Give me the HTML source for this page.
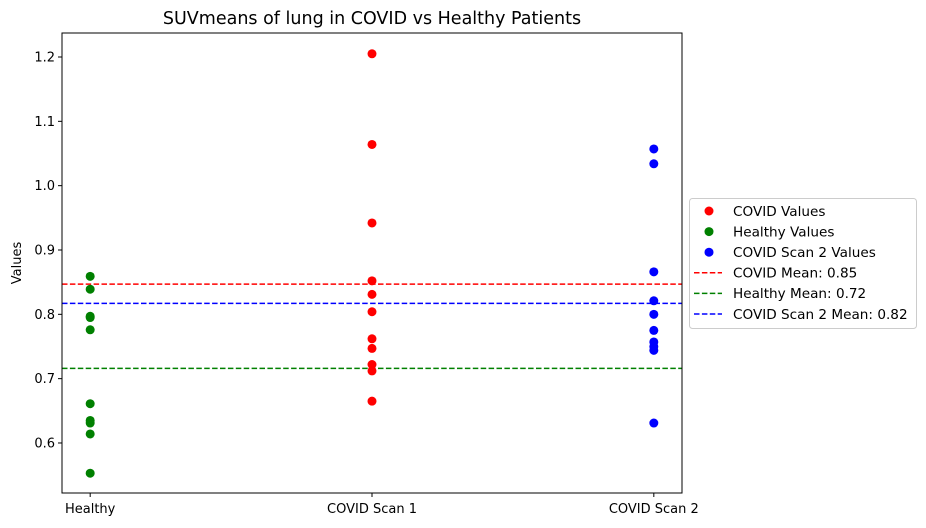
<!DOCTYPE html>
<html><head><meta charset="utf-8"><style>
body{margin:0;background:#fff}
svg{display:block;font-family:"DejaVu Sans","Liberation Sans",sans-serif}
</style></head><body>
<svg id="chart" width="926" height="528" viewBox="0 0 926 528" xmlns="http://www.w3.org/2000/svg">
<rect width="926" height="528" fill="#fff"/>
<text x="372" y="24" font-size="17.5" text-anchor="middle">SUVmeans of lung in COVID vs Healthy Patients</text>
<text transform="translate(21,263) rotate(-90)" font-size="13" text-anchor="middle">Values</text>
<g id="marks"></g>
<rect x="62" y="33" width="620" height="460" fill="none" stroke="#000" stroke-width="1"/>
<g id="legend">
<rect x="689.5" y="198.5" width="227" height="130" rx="3" fill="#fff" stroke="#ccc"/>
</g>
</svg>
<script>
const categories = ["Healthy", "COVID Scan 1", "COVID Scan 2"];
const healthyValues = [0.859, 0.839, 0.797, 0.795, 0.776, 0.661, 0.635, 0.631, 0.614, 0.553];
const covidValues = [1.205, 1.064, 0.942, 0.852, 0.831, 0.804, 0.762, 0.747, 0.722, 0.712, 0.665];
const covid2Values = [1.057, 1.034, 0.866, 0.821, 0.800, 0.775, 0.757, 0.750, 0.744, 0.631];
const meanValues = [0.847, 0.716, 0.817];
const meanLabels = ["COVID Mean: 0.85", "Healthy Mean: 0.72", "COVID Scan 2 Mean: 0.82"];
const yTicks = [0.6, 0.7, 0.8, 0.9, 1.0, 1.1, 1.2];

const NS = "http://www.w3.org/2000/svg";
const X0 = 62, X1 = 682, Y0 = 33, Y1 = 493;
function xScale(i){ return X0 + (i + 0.1) / 2.2 * (X1 - X0); }
function yScale(v){ return 57 + (1.2 - v) * 643.3; }
function mk(tag, attrs, parent){
  const e = document.createElementNS(NS, tag);
  for (const k in attrs) e.setAttribute(k, attrs[k]);
  parent.appendChild(e); return e;
}
const svg = document.getElementById("chart");
const marks = document.getElementById("marks");

yTicks.forEach(t => {
  const y = yScale(t);
  const l = mk("line", {x1: X0 - 4, x2: X0, y1: y, y2: y, stroke: "#000"}, svg);
  
  
  const tx = mk("text", {x: X0 - 7, y: y + 4.5, "font-size": 13, "text-anchor": "end"}, svg);
  tx.textContent = t.toFixed(1);
  
  
});
categories.forEach((c, i) => {
  const x = xScale(i);
  const l = mk("line", {x1: x, x2: x, y1: Y1, y2: Y1 + 4, stroke: "#000"}, svg);
  
  
  const tx = mk("text", {x: x, y: Y1 + 20, "font-size": 13, "text-anchor": "middle"}, svg);
  tx.textContent = c;
  
  
});

const meanColors = ["#ff0000", "#008000", "#0000ff"];
meanValues.forEach((m, i) => {
  const y = yScale(m);
  const l = mk("line", {x1: X0, x2: X1, y1: y, y2: y, stroke: meanColors[i], "stroke-width": 1.5, "stroke-dasharray": "5.5,2.4"}, marks);
  
  
});

function pts(vals, idx, color){
  vals.forEach(v => {
    const c = mk("circle", {cx: xScale(idx), cy: yScale(v), r: 4.5, fill: color}, marks);
    
    
  });
}
pts(covidValues, 1, "#ff0000");
pts(healthyValues, 0, "#008000");
pts(covid2Values, 2, "#0000ff");

const legend = document.getElementById("legend");
const legItems = [
  ["pt", "#ff0000", "COVID Values"],
  ["pt", "#008000", "Healthy Values"],
  ["pt", "#0000ff", "COVID Scan 2 Values"],
  ["ln", "#ff0000", meanLabels[0]],
  ["ln", "#008000", meanLabels[1]],
  ["ln", "#0000ff", meanLabels[2]]
];
legItems.forEach((it, k) => {
  const y = 211 + k * 20.6;
  if (it[0] === "pt") {
    const c = mk("circle", {cx: 709, cy: y, r: 4.5, fill: it[1]}, legend);
    
    
  } else {
    const l = mk("line", {x1: 694, x2: 722, y1: y, y2: y, stroke: it[1], "stroke-width": 1.5, "stroke-dasharray": "5.5,2.4"}, legend);
    
    
  }
  const t = mk("text", {x: 733, y: y + 4.8, "font-size": 13.6}, legend);
  t.textContent = it[2];
  
  
});
</script>
</body></html>
